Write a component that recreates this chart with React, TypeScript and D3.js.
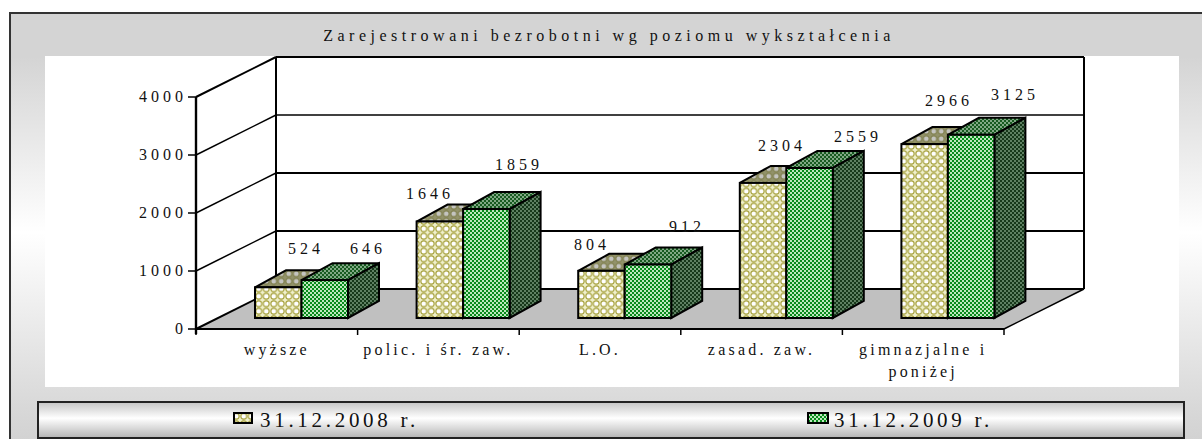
import React from "react";
import * as d3 from "d3";

const categories = [["wyższe"], ["polic. i śr. zaw."], ["L.O."], ["zasad. zaw."], ["gimnazjalne i", "poniżej"]];
const series2008 = [524, 1646, 804, 2304, 2966];
const series2009 = [646, 1859, 912, 2559, 3125];
const yTicks = [0, 1000, 2000, 3000, 4000];
const legendLabels = ["31.12.2008 r.", "31.12.2009 r."];
const title = "Zarejestrowani bezrobotni wg poziomu wykształcenia";

// label placement (chart-space centre of each data label)
const labelPos2008 = [[306, 254], [430, 199], [592, 250], [782, 151], [949, 106]];
const labelPos2009 = [[368, 254], [519, 170], [687, 232], [858, 142], [1015, 100]];

const W = 1202, H = 439;
const frontX0 = 196, frontX1 = 1004, frontY0 = 329, frontY4k = 97;
const backDX = 80, backDY = -40;
const barDX = 31, barDY = -17, barBase = 318, barW = 46.5, barInset = 59;

const x = d3.scaleBand<number>().domain(d3.range(categories.length)).range([frontX0, frontX1]);
const y = d3.scaleLinear().domain([0, 4000]).range([frontY0, frontY4k]);
const h = d3.scaleLinear().domain([0, 4000]).range([0, 234.5]);
const poly = d3.line();
const FONT = "'Liberation Serif', serif";

function Bar({ i, idx, v, front, top, side }: any) {
  const x0 = (x(i) as number) + barInset + idx * barW;
  const x1 = x0 + barW;
  const yt = barBase - h(v);
  const stroke = { stroke: "#000", strokeWidth: 2, strokeLinejoin: "miter" as const };
  return (
    <g>
      <path d={poly([[x0, yt], [x1, yt], [x1 + barDX, yt + barDY], [x0 + barDX, yt + barDY]])! + "Z"} fill={`url(#${top})`} {...stroke} />
      <path d={poly([[x1, yt], [x1 + barDX, yt + barDY], [x1 + barDX, barBase + barDY], [x1, barBase]])! + "Z"} fill={`url(#${side})`} {...stroke} />
      <rect x={x0} y={yt} width={barW} height={barBase - yt} fill={`url(#${front})`} {...stroke} />
    </g>
  );
}

function Checker({ id, fg, bg }: { id: string; fg: string; bg: string }) {
  return (
    <pattern id={id} width={4} height={4} patternUnits="userSpaceOnUse">
      <rect width={4} height={4} fill={bg} />
      <rect width={2} height={2} fill={fg} />
      <rect x={2} y={2} width={2} height={2} fill={fg} />
    </pattern>
  );
}

function Rings({ id, fg, bg, disc }: { id: string; fg: string; bg: string; disc: string }) {
  return (
    <pattern id={id} width={7.5} height={7.5} patternUnits="userSpaceOnUse">
      <rect width={7.5} height={7.5} fill={bg} />
      <circle cx={3.75} cy={3.75} r={2.9} fill={disc} stroke={fg} strokeWidth={1.1} />
    </pattern>
  );
}

export default function App() {
  const bx0 = frontX0 + backDX, bx1 = frontX1 + backDX;
  const ls = { fontFamily: FONT, fill: "#111" };
  return (
    <svg width={W} height={H} style={{ position: "absolute", left: 0, top: 0, display: "block" }} xmlns="http://www.w3.org/2000/svg">
      <defs>
        <linearGradient id="bg" x1="0" y1="0" x2="0" y2="1">
          <stop offset="0" stopColor="#d4d4d4" />
          <stop offset="0.1" stopColor="#d4d4d4" />
          <stop offset="0.5" stopColor="#ffffff" />
          <stop offset="0.9" stopColor="#d8d8d8" />
          <stop offset="1" stopColor="#d0d0d0" />
        </linearGradient>
        <linearGradient id="lg" x1="0" y1="0" x2="0" y2="1">
          <stop offset="0" stopColor="#c4c4c4" />
          <stop offset="0.45" stopColor="#ffffff" />
          <stop offset="1" stopColor="#b4b4b4" />
        </linearGradient>
        <Rings id="yf" fg="#a09a30" bg="#f0f0cc" disc="#ffffff" />
        <Rings id="yt" fg="#80804e" bg="#92926a" disc="#c4c4c0" />
        <Checker id="gf" fg="#078a1a" bg="#bde8bd" />
        <Checker id="gt" fg="#175a20" bg="#80a884" />
        <Checker id="gs" fg="#16381a" bg="#5e8062" />
      </defs>
      <rect x={0} y={0} width={W} height={H} fill="#fff" />
      <rect x={10} y={13} width={W} height={H} fill="url(#bg)" stroke="#333" strokeWidth={2} />
      <rect x={45} y={56} width={1134} height={331} fill="#fff" />

      <text x={609} y={41} textAnchor="middle" fontSize={16} letterSpacing={4.5} {...ls}>{title}</text>

      {/* floor */}
      <path d={poly([[frontX0, frontY0], [frontX1, frontY0], [bx1, frontY0 + backDY], [bx0, frontY0 + backDY]])! + "Z"} fill="#c0c0c0" />
      {/* back wall and gridlines */}
      <line x1={bx0} x2={bx0} y1={y(4000) + backDY + 0} y2={y(0) + backDY} stroke="#000" strokeWidth={2} />
      <line x1={bx1} x2={bx1} y1={y(4000) + backDY + 0} y2={y(0) + backDY} stroke="#000" strokeWidth={2} />
      {yTicks.map((t) => (
        <g key={t}>
          <line x1={bx0} x2={bx1} y1={y(t) + backDY} y2={y(t) + backDY} stroke="#000" strokeWidth={t === 3000 ? 1.4 : 2} />
          <line x1={frontX0} x2={bx0} y1={y(t)} y2={y(t) + backDY} stroke="#000" strokeWidth={t === 0 || t === 4000 ? 2 : 1.5} />
          <line x1={frontX0 - 8} x2={frontX0} y1={y(t)} y2={y(t)} stroke="#000" strokeWidth={1.5} />
          <text x={frontX0 - 9} y={y(t) + 5} textAnchor="end" fontSize={16} letterSpacing={4} {...ls}>{t}</text>
        </g>
      ))}
      <line x1={frontX1} x2={bx1} y1={frontY0} y2={frontY0 + backDY} stroke="#000" strokeWidth={1.5} />
      {/* front axes */}
      <line x1={frontX0} x2={frontX0} y1={y(4000)} y2={y(0) + 5} stroke="#000" strokeWidth={2.4} />
      <line x1={frontX0} x2={frontX1} y1={frontY0} y2={frontY0} stroke="#000" strokeWidth={2} />
      {d3.range(categories.length + 1).map((i) => {
        const tx = frontX0 + i * x.step();
        return <line key={i} x1={tx} x2={tx} y1={frontY0} y2={frontY0 + 6} stroke="#000" strokeWidth={1.5} />;
      })}

      {/* bars */}
      {categories.map((_, i) => (
        <g key={i}>
          <Bar i={i} idx={0} v={series2008[i]} front="yf" top="yt" side="yt" />
          <Bar i={i} idx={1} v={series2009[i]} front="gf" top="gt" side="gs" />
        </g>
      ))}

      {/* data labels */}
      {categories.map((_, i) => (
        <g key={i}>
          <text x={labelPos2008[i][0]} y={labelPos2008[i][1]} textAnchor="middle" fontSize={16} letterSpacing={4} {...ls}>{series2008[i]}</text>
          <text x={labelPos2009[i][0]} y={labelPos2009[i][1]} textAnchor="middle" fontSize={16} letterSpacing={4} {...ls}>{series2009[i]}</text>
        </g>
      ))}

      {/* category labels */}
      {categories.map((lines, i) =>
        lines.map((s, j) => (
          <text key={j} x={(x(i) as number) + x.bandwidth() / 2} y={355 + j * 22} textAnchor="middle" fontSize={16} letterSpacing={3.2} {...ls}>{s}</text>
        ))
      )}

      {/* legend */}
      <rect x={38} y={402} width={1146} height={36} fill="url(#lg)" stroke="#222" strokeWidth={2} />
      <rect x={234} y={413} width={18} height={10} fill="url(#yf)" stroke="#000" strokeWidth={2} />
      <text x={260} y={427} fontSize={21} letterSpacing={3.7} {...ls}>{legendLabels[0]}</text>
      <rect x={808} y={413} width={20} height={10} fill="url(#gf)" stroke="#000" strokeWidth={2} />
      <text x={834} y={427} fontSize={21} letterSpacing={3.7} {...ls}>{legendLabels[1]}</text>
    </svg>
  );
}
